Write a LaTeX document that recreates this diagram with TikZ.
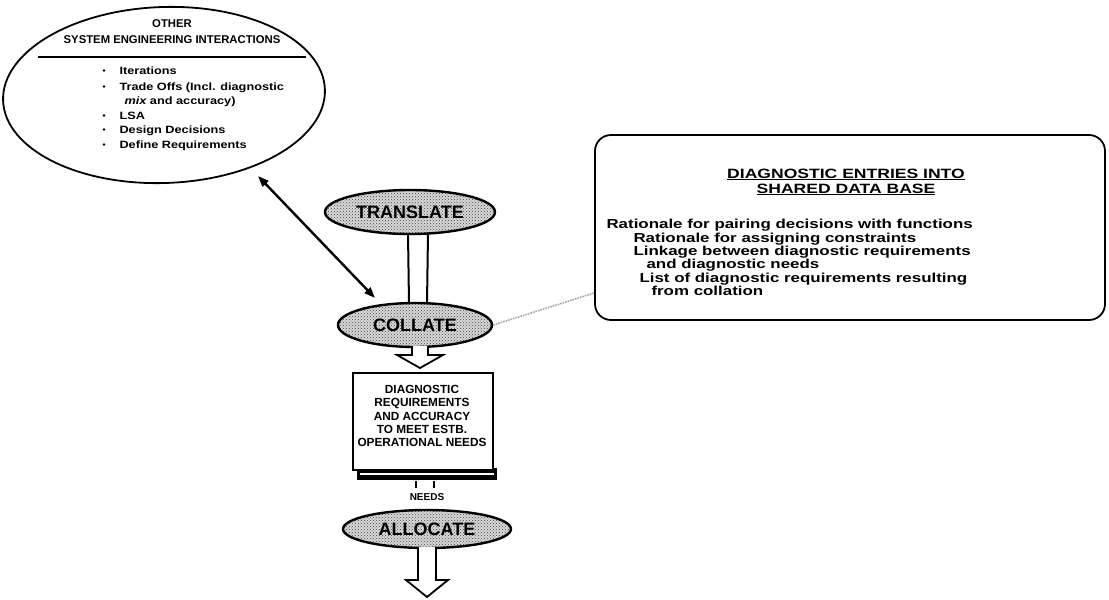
\documentclass[tikz,border=0pt]{standalone}
\usepackage{fontspec}
\setmainfont{Liberation Sans}
\newfontfamily\widesans[FakeStretch=1.3]{Liberation Sans}
\newfontfamily\midsans[FakeStretch=1.2]{Liberation Sans}
\usetikzlibrary{arrows.meta,shapes.geometric,patterns,calc}

\begin{document}
\begin{tikzpicture}[x=1pt,y=-1pt,
  stage/.style={ellipse, draw, line width=2.4pt, inner sep=0pt,
    preaction={fill=gray!30}, pattern=crosshatch dots, pattern color=black!75,
    font=\bfseries\fontsize{18}{18}\selectfont},
  blockarrow/.style={draw, line width=1.8pt, fill=white, line join=miter},
  bartube/.style={line width=2pt},
  ovaltext/.style={font=\bfseries\fontsize{11.3}{12}\selectfont, anchor=base},
  itemtext/.style={font=\midsans\bfseries\fontsize{10.6}{12}\selectfont, anchor=base west},
  entrytext/.style={font=\widesans\bfseries\fontsize{13}{13}\selectfont, anchor=base west},
  linkarrow/.style={line width=2.4pt, {Triangle[length=11pt,width=8pt]}-{Triangle[length=11pt,width=8pt]}},
  notelink/.style={line width=1.6pt, gray!70, densely dotted},
  itemdot/.style={circle, fill, inner sep=0pt, minimum size=2.8pt}
]
\useasboundingbox (0,0) rectangle (1109,600);

% system engineering interactions bubble
\node[ellipse, draw, line width=1.8pt, minimum width=322pt, minimum height=176pt, inner sep=0pt, rotate=2] (sei) at (164,95) {};
\node[ovaltext] (seiA) at (172,27) {OTHER};
\node[ovaltext] (seiB) at (172,43) {SYSTEM ENGINEERING INTERACTIONS};
\draw[line width=1.6pt] (38,57) -- (306,57);
\foreach \yy/\txt in {74/Iterations, 90/{Trade Offs (Incl. diagnostic}, 119/LSA, 133/Design Decisions, 148/Define Requirements}{
  \node[itemdot] at (104,\yy-3.5) {};
  \node[itemtext] at (116,\yy) {\txt};
}
\node[itemtext] (mixtxt) at (121,104) {\itshape mix\upshape\ and accuracy)};

% main flow
\node[stage, minimum width=170pt, minimum height=44pt] (translate) at (410,212) {TRANSLATE};
\node[stage, minimum width=154pt, minimum height=44pt] (collate) at (415,325) {COLLATE};
\node[stage, minimum width=168pt, minimum height=38pt] (allocate) at (427,529) {ALLOCATE};

% tube between translate and collate
\draw[bartube] (408,233) -- (409,304);
\draw[bartube] (428,233) -- (427,304);

% hollow arrow below collate
\draw[blockarrow] (412,346) -- (412,355) -- (397,355) -- (420,368) -- (443,355) -- (428,355) -- (428,346);

% requirements box with slab shadow
\fill[black] (357,468) rectangle (497,480);
\draw[white, line width=1.5pt] (360,474) -- (494,474);
\node[draw, line width=1.8pt, fill=white, minimum width=140pt, minimum height=97pt, inner sep=0pt] (reqbox) at (423,421.5) {};
\node[font=\bfseries\fontsize{11.8}{13.2}\selectfont, align=center, inner sep=0pt] (reqtext) at (422,416)
  {DIAGNOSTIC\\REQUIREMENTS\\AND ACCURACY\\TO MEET ESTB.\\OPERATIONAL NEEDS};

% needs label and ticks
\draw[line width=1.4pt] (416,481) -- (416,488);
\draw[line width=1.4pt] (434,481) -- (434,488);
\node[font=\bfseries\fontsize{10}{10}\selectfont, inner sep=0pt] (needs) at (427,497) {NEEDS};

% hollow arrow below allocate
\draw[blockarrow] (418,547) -- (418,580) -- (406,580) -- (427,597) -- (448,580) -- (436,580) -- (436,547);

% link between the bubble and collate
\draw[linkarrow] (258,176) -- (375,298);

% shared data base entries
\node[draw, line width=1.8pt, rounded corners=16pt, minimum width=510pt, minimum height=185pt, inner sep=0pt] (entries) at (850,227.5) {};
\node[font=\widesans\bfseries\fontsize{13.5}{15}\selectfont, align=center, inner sep=0pt] (entrytitle) at (846,182)
  {\underline{DIAGNOSTIC ENTRIES INTO}\\\underline{SHARED DATA BASE}};
\node[entrytext] at (603,228) {Rationale for pairing decisions with functions};
\node[entrytext] at (630,242) {Rationale for assigning constraints};
\node[entrytext] at (630,255) {Linkage between diagnostic requirements};
\node[entrytext] at (643,268) {and diagnostic needs};
\node[entrytext] at (636,282) {List of diagnostic requirements resulting};
\node[entrytext] at (648,295) {from collation};

% dotted note connector
\draw[notelink] (collate.east) -- (entries.west |- 0,293);
\end{tikzpicture}
\end{document}
